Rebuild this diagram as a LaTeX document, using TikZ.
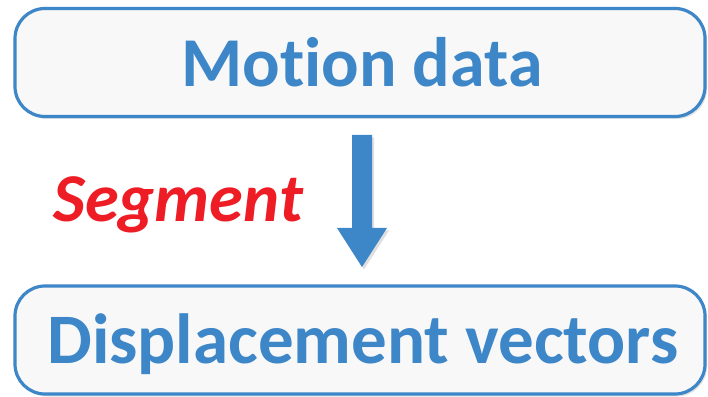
\documentclass[tikz,border=0pt]{standalone}
\usepackage{fontspec}
\setmainfont[Ligatures=NoCommon]{Carlito}
\usetikzlibrary{shadows}
\definecolor{boxblue}{HTML}{3D86C8}
\definecolor{boxfill}{HTML}{F8F8F8}
\definecolor{segred}{HTML}{EE1C25}
\tikzset{
  x=1pt, y=1pt,
  stagebox/.style={draw=boxblue, line width=3.2pt, fill=boxfill, rounded corners=30pt,
    minimum width=690pt, minimum height=108pt, inner sep=0pt,
    drop shadow={opacity=0.22, shadow xshift=2pt, shadow yshift=-2.5pt}},
  stagetext/.style={text=boxblue, font=\bfseries\fontsize{70}{80}\selectfont, anchor=base, inner sep=0pt},
}
\begin{document}
\begin{tikzpicture}
\useasboundingbox (0,0) rectangle (708,396);
% boxes
\node[stagebox] (motion) at (360,333.5) {};
\node[stagebox] (disp) at (360,56) {};
\node[stagetext] (motiontxt) at (362,309) {Motion data};
\node[stagetext, font=\bfseries\fontsize{71}{80}\selectfont] (disptxt) at (363,33) {Displacement vectors};
% down arrow
\fill[boxblue, drop shadow={opacity=0.25, shadow xshift=2pt, shadow yshift=-2.5pt}]
  (352,261) -- (372,261) -- (372,168) -- (387,168) -- (362,129) -- (337,168) -- (352,168) -- cycle;
% label
\node[text=segred, font=\bfseries\itshape\fontsize{68.5}{78}\selectfont, anchor=base west, inner sep=0pt] (seg) at (53,174) {Segment};
\end{tikzpicture}
\end{document}
